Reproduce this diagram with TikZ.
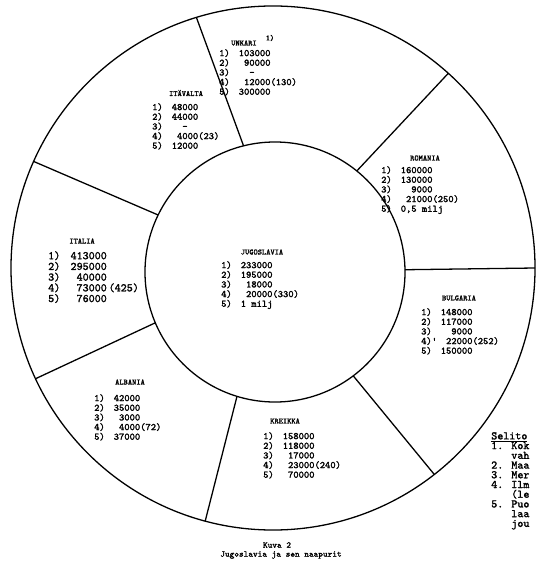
\documentclass[tikz,border=0pt]{standalone}
\usepackage{fontspec}
\usepackage{tikz}
\usetikzlibrary{positioning}
\newfontfamily\kone{Latin Modern Mono}[FakeBold=1.6]
\newenvironment{luvut}{\begin{tabular}{@{}l@{\hspace{0.9em}}r@{}l@{}}}{\end{tabular}}

\begin{document}
\begin{tikzpicture}[x=0.03cm,y=-0.03cm,
  ring/.style={draw=black,circle,line width=1.1pt,inner sep=0pt,outer sep=0pt},
  raja/.style={draw=black,line width=1.1pt},
  maa/.style={font=\fontsize{6.8}{7}\selectfont\kone,inner sep=0pt},
  data/.style={font=\fontsize{8.5}{7.8}\selectfont\kone,inner sep=0pt,anchor=north west},
  kuvateksti/.style={font=\fontsize{7.5}{8}\selectfont\kone,inner sep=0pt}]

  \useasboundingbox (0,0) rectangle (535,565);

  % rings
  \node[ring,minimum size=15.72cm] (outer) at (273,268) {};
  \node[ring,minimum size=7.8cm] (inner) at (275,272) {};
  \foreach \a/\b in {51/48, 1/0, 307/308, 253/255, 203/205, 154/156, 104/107.5}
    \draw[raja] (inner.\a) -- (outer.\b);

  % Unkari
  \node[maa] (hu) at (244,43) {UNKARI};
  \node[maa] (hu-v) at (270,38) {1)};
  \node[data] (hu-d) at (219,49) {\begin{luvut}
    1) & 103000 & \\ 2) & 90000 & \\ 3) & -\phantom{000} & \\
    4) & 12000 & (130) \\ 5) & 300000 & \end{luvut}};

  % Itavalta
  \node[maa] (at) at (186,93) {ITÄVALTA};
  \node[data] (at-d) at (152,103) {\begin{luvut}
    1) & 48000 & \\ 2) & 44000 & \\ 3) & -\phantom{00} & \\
    4) & 4000 & (23) \\ 5) & 12000 & \end{luvut}};

  % Romania
  \node[maa] (ro) at (425,158) {ROMANIA};
  \node[data] (ro-d) at (381,166) {\begin{luvut}
    1) & 160000 & \\ 2) & 130000 & \\ 3) & 9000 & \\
    4) & 21000 & (250) \\ 5) & \multicolumn{2}{@{}l@{}}{0,5 milj} \end{luvut}};

  % Italia
  \node[maa] (it) at (82,241) {ITALIA};
  \node[data,font=\fontsize{9.8}{7.8}\selectfont\kone] (it-d) at (48,251) {\begin{luvut}
    1) & 413000 & \\ 2) & 295000 & \\ 3) & 40000 & \\
    4) & 73000 & \,(425) \\ 5) & 76000 & \end{luvut}};

  % Jugoslavia
  \node[maa] (yu) at (262,252) {JUGOSLAVIA};
  \node[data] (yu-d) at (221,261) {\begin{luvut}
    1) & 233000 & \\ 2) & 195000 & \\ 3) & 18000 & \\
    4) & 20000 & (330) \\ 5) & 1 milj & \end{luvut}};

  % Bulgaria
  \node[maa] (bg) at (459,298) {BULGARIA};
  \node[data] (bg-d) at (421,308) {\begin{luvut}
    1) & 148000 & \\ 2) & 117000 & \\ 3) & 9000 & \\
    4)\rlap{'} & 22000 & (252) \\ 5) & 150000 & \end{luvut}};

  % Albania
  \node[maa] (al) at (130,382) {ALBANIA};
  \node[data] (al-d) at (94,394) {\begin{luvut}
    1) & 42000 & \\ 2) & 35000 & \\ 3) & 3000 & \\
    4) & 4000 & (72) \\ 5) & 37000 & \end{luvut}};

  % Kreikka
  \node[maa] (gr) at (285,421) {KREIKKA};
  \node[data] (gr-d) at (263,432) {\begin{luvut}
    1) & 158000 & \\ 2) & 118000 & \\ 3) & 17000 & \\
    4) & 23000 & (240) \\ 5) & 70000 & \end{luvut}};

  % selitykset (kuvan reunaan asti)
  \node[anchor=north west,inner sep=0pt,align=left,
        font=\fontsize{9.8}{8.3}\selectfont\kone] (sel) at (491,432)
    {\underline{Selito}\\
     1. Kok\\
     \phantom{1. }vah\\
     2. Maa\\
     3. Mer\\
     4. Ilm\\
     \phantom{4. }(le\\
     5. Puo\\
     \phantom{5. }laa\\
     \phantom{5. }jou};

  % kuvateksti
  \node[kuvateksti] (kuva) at (277,545) {Kuva 2};
  \node[kuvateksti] (nimi) at (281,555) {Jugoslavia ja sen naapurit};
\end{tikzpicture}
\end{document}
